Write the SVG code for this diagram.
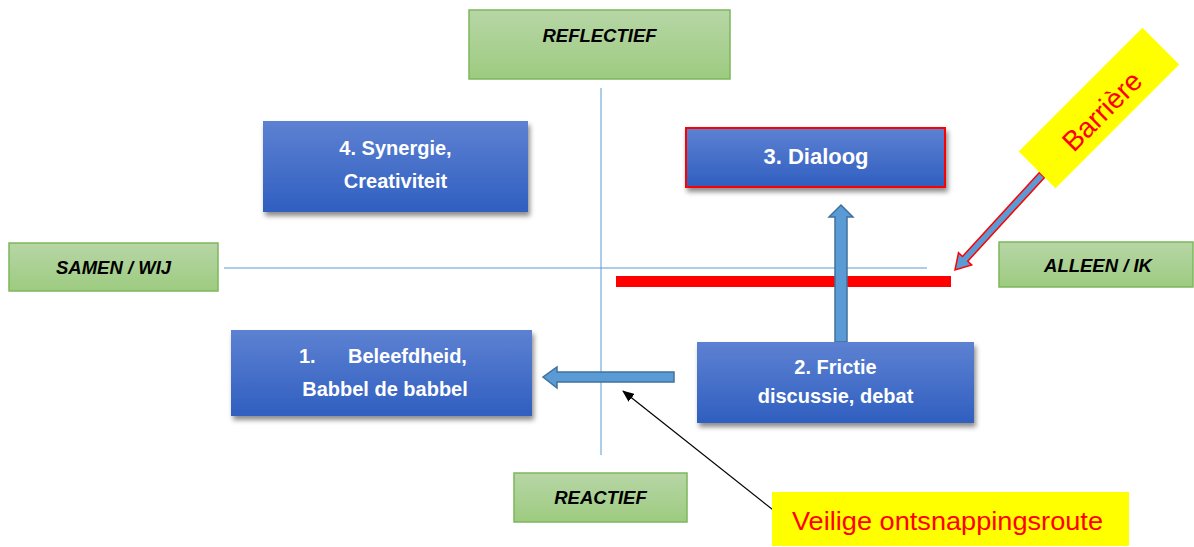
<svg xmlns="http://www.w3.org/2000/svg" width="1194" height="547" viewBox="0 0 1194 547">
<style>
.gbox{fill:url(#gg);stroke:#7db75b;stroke-width:1.5}
.gtxt{font-family:"Liberation Sans",Arial,sans-serif;font-weight:bold;font-style:italic;font-size:18.5px;fill:#000;text-anchor:middle}
.bbox{fill:url(#bg);filter:url(#sh)}
.btxt{font-family:"Liberation Sans",Arial,sans-serif;font-weight:bold;font-size:20px;fill:#fff;text-anchor:middle}
.axis{stroke:#5b9bd5;stroke-width:1;fill:none}
.barrow{fill:#5b9bd5;stroke:#41719c;stroke-width:1.5}
.ytxt{font-family:"Liberation Sans",Arial,sans-serif;fill:#ff0000}
</style>
<defs>
<linearGradient id="gg" x1="0" y1="0" x2="0" y2="1">
<stop offset="0" stop-color="#b7d6a6"/>
<stop offset="1" stop-color="#9dcb80"/>
</linearGradient>
<linearGradient id="bg" x1="0" y1="0" x2="0" y2="1">
<stop offset="0" stop-color="#5d81d2"/>
<stop offset="1" stop-color="#305fc0"/>
</linearGradient>
<filter id="sh" x="-10%" y="-20%" width="125%" height="150%">
<feDropShadow dx="2" dy="4" stdDeviation="2.5" flood-color="#000" flood-opacity="0.45"/>
</filter>
<marker id="ah" markerWidth="12" markerHeight="10" refX="11" refY="5" orient="auto" markerUnits="userSpaceOnUse">
<path d="M0,0 L12,5 L0,10 Z" fill="#000"/>
</marker>
</defs>

<g id="connectors">
<line class="axis" x1="601" y1="88" x2="601" y2="455"/>
<line class="axis" x1="224" y1="268" x2="927" y2="268"/>
<rect x="616" y="276" width="335" height="11" fill="#ff0000"/>
<polygon class="barrow" points="835,342 835,217 829,217 841,205 853,217 847,217 847,342"/>
<polygon class="barrow" points="674,372 557,372 557,367 543,377 557,388 557,382 674,382"/>
<polygon points="1044.6,177.4 967.7,261.3 971.7,265 955,270 958.5,252.8 962.5,256.5 1039.4,172.6" fill="#5b9bd5" stroke="#ff0000" stroke-width="1.5"/>
<line x1="782" y1="517" x2="623" y2="391" stroke="#000" stroke-width="1.2" marker-end="url(#ah)"/>
</g>

<g id="reflectief">
<rect class="gbox" x="469" y="10" width="261" height="69"/>
<text class="gtxt" x="599.5" y="42">REFLECTIEF</text>
</g>
<g id="samen">
<rect class="gbox" x="9" y="243" width="209" height="48"/>
<text class="gtxt" x="113.5" y="274">SAMEN / WIJ</text>
</g>
<g id="alleen">
<rect class="gbox" x="999" y="242" width="194" height="45"/>
<text class="gtxt" x="1098" y="272">ALLEEN / IK</text>
</g>
<g id="reactief">
<rect class="gbox" x="514" y="473" width="173" height="49"/>
<text class="gtxt" x="600.5" y="504">REACTIEF</text>
</g>

<g id="node4">
<rect class="bbox" x="263" y="121" width="265" height="91"/>
<text class="btxt" x="395.5" y="155">4. Synergie,</text>
<text class="btxt" x="395.5" y="188">Creativiteit</text>
</g>
<g id="node3">
<rect class="bbox" x="686" y="128" width="259" height="59" stroke="#ff0000" stroke-width="2"/>
<text class="btxt" x="816" y="164" style="font-size:22px">3. Dialoog</text>
</g>
<g id="node1">
<rect class="bbox" x="231" y="330" width="301" height="86"/>
<text class="btxt" x="299" y="363" style="text-anchor:start">1.</text>
<text class="btxt" x="348" y="363" style="text-anchor:start">Beleefdheid,</text>
<text class="btxt" x="385" y="396">Babbel de babbel</text>
</g>
<g id="node2">
<rect class="bbox" x="697" y="342" width="277" height="81"/>
<text class="btxt" x="835.5" y="374">2. Frictie</text>
<text class="btxt" x="835.5" y="403">discussie, debat</text>
</g>

<g id="barriere">
<g transform="translate(1099,108) rotate(-45)">
<rect x="-87.5" y="-26" width="175" height="52" fill="#ffff00"/>
<text class="ytxt" x="0" y="14" font-size="28" text-anchor="middle">Barrière</text>
</g>
</g>
<g id="route">
<rect x="772" y="492" width="357" height="54" fill="#ffff00"/>
<text class="ytxt" x="792" y="530" font-size="26" textLength="311" lengthAdjust="spacingAndGlyphs">Veilige ontsnappingsroute</text>
</g>
</svg>
